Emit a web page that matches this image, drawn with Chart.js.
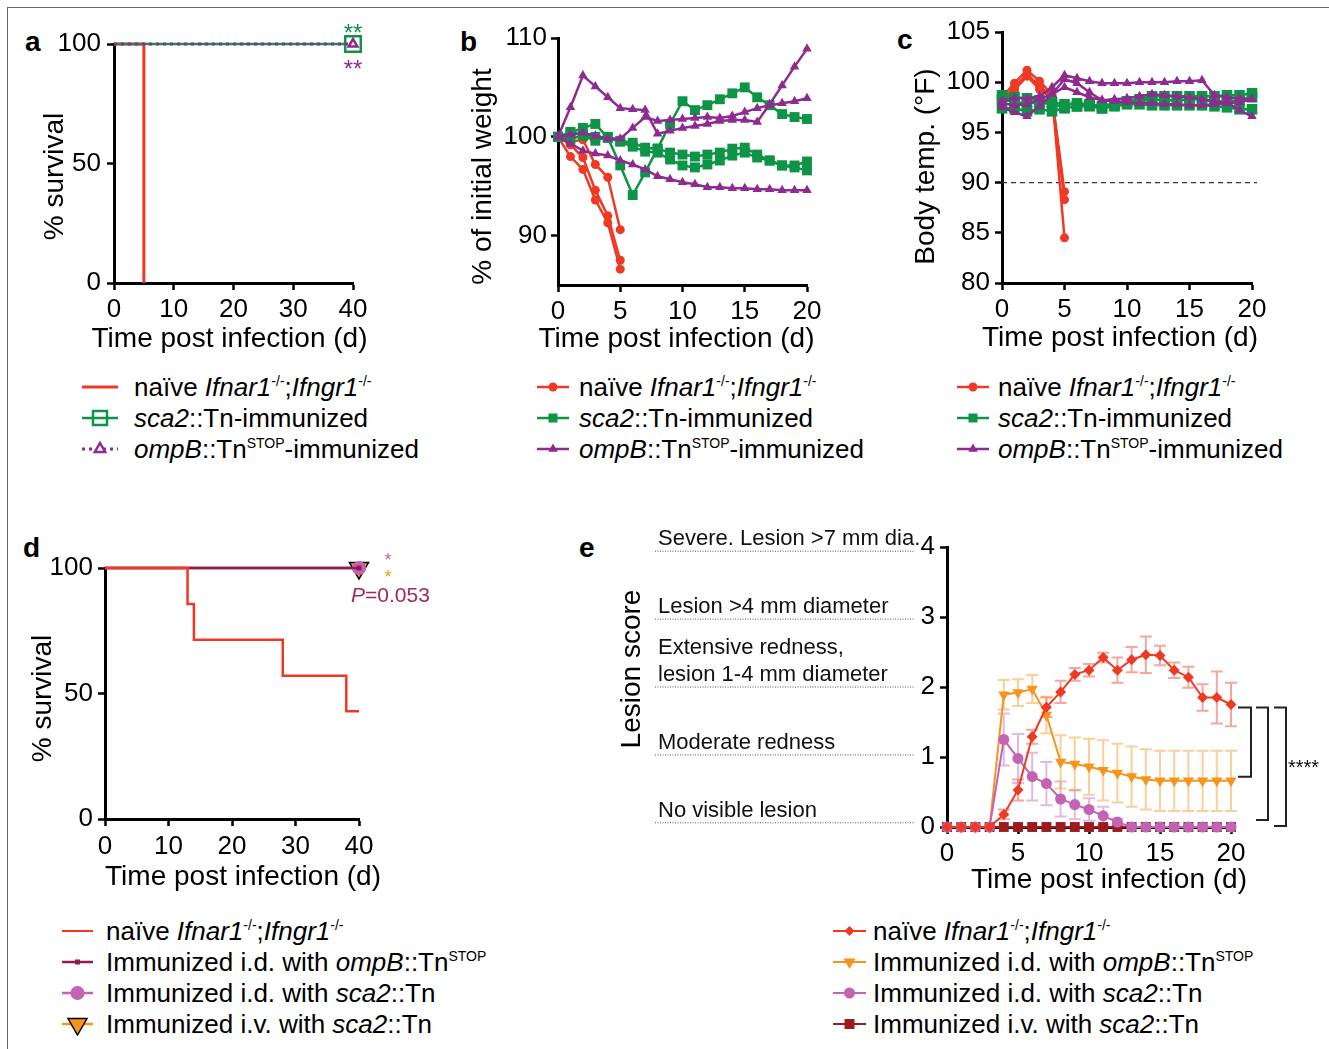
<!DOCTYPE html>
<html>
<head>
<meta charset="utf-8">
<script src="https://cdn.jsdelivr.net/npm/chart.js@4.4.0/dist/chart.umd.min.js"></script>
<style>
  html, body { margin: 0; padding: 0; background: #fff; }
  body { width: 1329px; height: 1049px; position: relative; overflow: hidden;
         font-family: "Liberation Sans", Arial, sans-serif; color: #000; }
  .frame { position: absolute; left: 7px; top: 7px; right: -2px; bottom: -2px;
           border-top: 1px solid #666; border-left: 1px solid #666; }
  canvas { position: absolute; }
  .letter { position: absolute; font-weight: bold; font-size: 28px; line-height: 28px; }
  .legend { position: absolute; font-size: 26px; line-height: 1; }
  .legend .row { display: flex; align-items: center; height: 31px; white-space: nowrap; }
  .legend svg { flex: none; }
  .legend sup { font-size: 14px; position: relative; top: -10px; vertical-align: baseline; line-height: 0; }
</style>
</head>
<body>
<div class="frame"></div>

<div class="letter" style="left:25px;top:28px">a</div>
<div class="letter" style="left:460px;top:28px">b</div>
<div class="letter" style="left:897px;top:26px">c</div>
<div class="letter" style="left:23px;top:534px">d</div>
<div class="letter" style="left:579px;top:534px">e</div>

<canvas id="chartA" width="380" height="350" style="left:20px;top:10px"></canvas>
<canvas id="chartB" width="400" height="350" style="left:450px;top:10px"></canvas>
<canvas id="chartC" width="420" height="350" style="left:880px;top:10px"></canvas>
<canvas id="chartD" width="440" height="370" style="left:10px;top:530px"></canvas>
<canvas id="chartE" width="754" height="380" style="left:575px;top:520px"></canvas>

<div class="legend" id="legendA" style="left:82px;top:371px"></div>
<div class="legend" id="legendB" style="left:537px;top:371px"></div>
<div class="legend" id="legendC" style="left:957px;top:371px"></div>
<div class="legend" id="legendD" style="left:62px;top:915px"></div>
<div class="legend" id="legendE" style="left:833px;top:915px"></div>

<script>
// ---- data ----
const days = [0, 1, 2, 3, 4, 5, 6, 7, 8, 9, 10, 11, 12, 13, 14, 15, 16, 17, 18, 19, 20];
const naiveDays = [0, 1, 2, 3, 4, 5];
const dayTicks = [0, 5, 10, 15, 20];
const survivalTicksX = [0, 10, 20, 30, 40];
const survivalTicksY = [0, 50, 100];

// a: survival after challenge
const aNaiveDays = [0, 5];
const aNaiveSurvival = [100, 0];
const aSca2Days = [0, 40];
const aSca2Survival = [100, 100];
const aOmpBDays = [0, 40];
const aOmpBSurvival = [100, 100];

// b: % of initial weight
const weightTicks = [90, 100, 110];
const weightNaive1 = [100, 98.0, 96.7, 93.6, 91.3, 86.6];
const weightNaive2 = [100, 99.2, 97.9, 94.6, 92.0, 87.5];
const weightNaive3 = [100, 99.5, 99.7, 97.2, 95.9, 90.6];
const weightSca2A = [100, 100.4, 100.9, 101.3, 99.9, 97.1, 94.1, 96.4, 98.8, 101.3, 103.6, 102.7, 103.2, 103.8, 104.4, 105.0, 104.0, 103.2, 102.3, 102.0, 101.8];
const weightSca2B = [100, 100.5, 100.1, 99.6, 100.0, 99.6, 99.4, 98.9, 98.8, 98.4, 98.2, 98.0, 98.2, 98.4, 98.8, 98.9, 98.2, 97.6, 97.1, 97.1, 97.5];
const weightSca2C = [100, 99.7, 100.2, 100.0, 99.9, 99.5, 99.0, 98.5, 98.4, 97.7, 97.1, 96.9, 97.2, 97.6, 98.1, 98.4, 97.9, 97.6, 97.1, 96.9, 96.6];
const weightOmpB1 = [100, 103.0, 106.2, 105.1, 104.0, 102.9, 102.8, 102.7, 100.3, 100.6, 100.9, 101.1, 101.3, 101.6, 101.7, 101.7, 101.5, 103.3, 105.2, 107.1, 108.9];
const weightOmpB2 = [100, 100.2, 100.4, 100.1, 99.8, 99.8, 100.9, 102.0, 101.6, 101.7, 101.8, 101.9, 102.0, 101.9, 102.1, 102.5, 102.9, 103.2, 103.4, 103.6, 103.9];
const weightOmpB3 = [100, 99.3, 98.6, 98.3, 98.1, 97.6, 97.2, 96.7, 96.0, 95.7, 95.4, 95.2, 94.9, 94.9, 94.8, 94.8, 94.7, 94.7, 94.6, 94.6, 94.6];

// c: body temperature (F)
const tempTicks = [80, 85, 90, 95, 100, 105];
const tempCutoff = 90;
const tempNaive1 = [98.5, 99.9, 101.2, 100.1, 98.8, 84.5];
const tempNaive2 = [98.2, 99.5, 100.8, 99.6, 98.6, 89.1];
const tempNaive3 = [98.0, 99.2, 100.6, 99.3, 98.4, 88.3];
const tempSca2A = [98.7, 98.5, 98.4, 98.2, 98.0, 97.8, 97.9, 97.8, 97.6, 97.9, 98.1, 98.3, 98.6, 98.6, 98.6, 98.6, 98.6, 98.6, 98.7, 98.7, 98.9];
const tempSca2B = [98.3, 98.0, 97.9, 98.0, 97.8, 97.5, 97.6, 97.7, 97.4, 97.7, 98.0, 98.1, 98.3, 98.2, 98.2, 98.3, 98.3, 98.0, 98.1, 98.2, 98.5];
const tempSca2C = [97.4, 97.4, 97.1, 97.3, 97.1, 97.4, 97.6, 97.6, 97.4, 97.6, 97.8, 97.8, 97.7, 97.7, 97.7, 97.7, 97.7, 97.6, 97.5, 97.3, 97.3];
const tempOmpB1 = [98.2, 98.4, 98.4, 98.6, 99.5, 100.7, 100.4, 100.1, 99.9, 99.9, 99.9, 100.0, 100.0, 100.0, 100.1, 100.1, 100.2, 98.7, 98.5, 98.4, 98.3];
const tempOmpB2 = [97.5, 97.0, 96.6, 97.6, 98.8, 99.5, 99.0, 98.5, 98.2, 98.3, 98.4, 98.6, 98.8, 98.7, 98.6, 98.5, 98.3, 98.1, 98.0, 97.2, 96.6];
const tempOmpB3 = [97.9, 97.7, 97.8, 98.3, 98.8, 100.3, 99.9, 99.0, 98.2, 98.1, 98.0, 97.9, 97.9, 97.8, 97.8, 97.7, 97.7, 97.8, 97.9, 98.0, 98.3];

// d: survival after i.d. challenge
const dNaiveDays = [0, 13, 14, 28, 38, 40];
const dNaiveSurvival = [100, 85.7, 71.4, 57.1, 42.9, 42.9];
const dImmDays = [0, 40];
const dIdOmpBSurvival = [100, 100];
const dIdSca2Survival = [100, 100];
const dIvSca2Survival = [100, 100];

// e: lesion score (mean, SEM)
const lesionTicks = [0, 1, 2, 3, 4];
const lesionNaive    = [0, 0, 0, 0, 0.18, 0.53, 1.29, 1.71, 1.93, 2.18, 2.24, 2.42, 2.24, 2.39, 2.46, 2.45, 2.24, 2.14, 1.85, 1.85, 1.75];
const lesionNaiveSem = [0, 0, 0, 0, 0.07, 0.15, 0.10, 0.14, 0.16, 0.09, 0.09, 0.07, 0.18, 0.18, 0.26, 0.14, 0.11, 0.15, 0.19, 0.37, 0.31];
const lesionIdOmpB    = [0, 0, 0, 0, 1.89, 1.92, 1.97, 1.60, 0.93, 0.90, 0.86, 0.81, 0.77, 0.72, 0.68, 0.66, 0.66, 0.66, 0.66, 0.66, 0.66];
const lesionIdOmpBSem = [0, 0, 0, 0, 0.21, 0.19, 0.20, 0.26, 0.38, 0.38, 0.40, 0.43, 0.42, 0.43, 0.43, 0.43, 0.43, 0.43, 0.43, 0.43, 0.43];
const lesionIdSca2    = [0, 0, 0, 0, 1.25, 0.98, 0.72, 0.62, 0.40, 0.32, 0.25, 0.16, 0.07, 0, 0, 0, 0, 0, 0, 0, 0];
const lesionIdSca2Sem = [0, 0, 0, 0, 0.37, 0.35, 0.34, 0.31, 0.25, 0.21, 0.16, 0.13, 0.05, 0, 0, 0, 0, 0, 0, 0, 0];
const lesionIvSca2    = [0, 0, 0, 0, 0, 0, 0, 0, 0, 0, 0, 0, 0, 0, 0, 0, 0, 0, 0, 0, 0];
const lesionLevelText = [
  ['No visible lesion'],
  ['Moderate redness'],
  ['Extensive redness,', 'lesion 1-4 mm diameter'],
  ['Lesion >4 mm diameter'],
  ['Severe. Lesion >7 mm dia.']
];

// legend labels
const naiveLabel = 'naïve <i>Ifnar1</i><sup>-/-</sup>;<i>Ifngr1</i><sup>-/-</sup>';
const immunizedLabels = ['<i>sca2</i>::Tn-immunized', '<i>ompB</i>::Tn<sup>STOP</sup>-immunized'];
const routeLabels = [
  'Immunized i.d. with <i>ompB</i>::Tn<sup>STOP</sup>',
  'Immunized i.d. with <i>sca2</i>::Tn',
  'Immunized i.v. with <i>sca2</i>::Tn'
];

// ---- colours ----
const RED = '#EE3A24';
const GREEN = '#0E9447';
const PURPLE = '#8E2B91';
const PINK = '#C263B3';
const ORANGE = '#F7941D';
const MAROON_D = '#8C1D50';
const MAROON_E = '#9C1B1F';
const FONT = '"Liberation Sans", Arial, sans-serif';

Chart.defaults.font.family = FONT;
Chart.defaults.color = '#000';

// axis titles are drawn here so that long titles are not squeezed to the axis width
const axisTitles = {
  id: 'axisTitles',
  afterDraw(chart, args, o) {
    if (!o.x) return;
    const { ctx, chartArea: a } = chart;
    ctx.save();
    ctx.fillStyle = '#000';
    ctx.font = '28px ' + FONT;
    ctx.textAlign = 'center';
    ctx.textBaseline = 'middle';
    ctx.fillText(o.x, (a.left + a.right) / 2 + o.xShift, a.bottom + o.xBelow);
    ctx.translate(a.left - o.yLeft, (a.top + a.bottom) / 2 + o.yShift);
    ctx.rotate(-Math.PI / 2);
    ctx.fillText(o.y, 0, 0);
    ctx.restore();
  }
};
Chart.register(axisTitles);

const pts = (xs, ys) => xs.map((x, i) => ({ x, y: ys[i] }));

function axis(o) {
  return {
    type: 'linear', min: o.min, max: o.max,
    afterBuildTicks: s => { s.ticks = o.ticks.map(v => ({ value: v })); },
    afterFit: s => { if (s.isHorizontal()) s.height = o.size; else s.width = o.size; },
    border: { color: '#000', width: 3 },
    grid: { drawOnChartArea: false, drawTicks: true, tickLength: 7, tickWidth: 2.5, tickColor: '#000' },
    ticks: { font: { size: 26 }, padding: o.tickPad, maxRotation: 0, minRotation: 0, autoSkip: false, color: '#000' },
    title: { display: false }
  };
}

function line(xs, ys, color, shape, r, extra) {
  return Object.assign({
    data: pts(xs, ys),
    borderColor: color, backgroundColor: color, borderWidth: 2.5,
    pointStyle: shape, pointRadius: r, pointBorderWidth: 0,
    pointBackgroundColor: color, pointBorderColor: color,
    tension: 0, clip: false
  }, extra || {});
}

function options(pad, xAxis, yAxis, titles) {
  return {
    responsive: false, animation: false, devicePixelRatio: 1,
    layout: { padding: pad, autoPadding: false },
    plugins: { legend: { display: false }, tooltip: { enabled: false }, axisTitles: titles },
    scales: { x: xAxis, y: yAxis }
  };
}

// ---- plugins for annotations ----
const survivalStarsA = {
  id: 'survivalStarsA',
  afterDatasetsDraw(chart) {
    const { ctx, scales: { x, y } } = chart;
    const px = x.getPixelForValue(40), py = y.getPixelForValue(100);
    ctx.save();
    ctx.font = '24px ' + FONT;
    ctx.textAlign = 'center';
    ctx.textBaseline = 'alphabetic';
    ctx.fillStyle = GREEN;
    ctx.fillText('**', px, py - 3);
    ctx.fillStyle = PURPLE;
    ctx.fillText('**', px, py + 33);
    ctx.restore();
  }
};

const cutoffLine = {
  id: 'cutoffLine',
  beforeDatasetsDraw(chart) {
    const { ctx, chartArea, scales: { x, y } } = chart;
    const py = y.getPixelForValue(tempCutoff);
    ctx.save();
    ctx.strokeStyle = '#333';
    ctx.lineWidth = 1.2;
    ctx.setLineDash([5, 4]);
    ctx.beginPath();
    ctx.moveTo(chartArea.left, py);
    ctx.lineTo(x.getPixelForValue(20) + 5, py);
    ctx.stroke();
    ctx.restore();
  }
};

const survivalStarsD = {
  id: 'survivalStarsD',
  afterDatasetsDraw(chart) {
    const { ctx, scales: { x, y } } = chart;
    const px = x.getPixelForValue(40), py = y.getPixelForValue(100);
    ctx.save();
    ctx.font = '18px ' + FONT;
    ctx.textAlign = 'center';
    ctx.fillStyle = PINK;
    ctx.fillText('*', px + 29, py - 2);
    ctx.fillStyle = ORANGE;
    ctx.fillText('*', px + 29, py + 15);
    ctx.textAlign = 'left';
    ctx.fillStyle = '#A0295E';
    ctx.font = 'italic 21px ' + FONT;
    ctx.fillText('P', px - 8, py + 34);
    const w = ctx.measureText('P').width;
    ctx.font = '21px ' + FONT;
    ctx.fillText('=0.053', px - 8 + w, py + 34);
    ctx.restore();
  }
};

const errorBars = {
  id: 'errorBars',
  beforeDatasetsDraw(chart) {
    const { ctx, scales: { y } } = chart;
    chart.data.datasets.forEach((ds, i) => {
      if (!ds.sem) return;
      const meta = chart.getDatasetMeta(i);
      ctx.save();
      ctx.strokeStyle = ds.semColor;
      ctx.lineWidth = 2;
      meta.data.forEach((pt, j) => {
        const e = ds.sem[j];
        if (!e) return;
        const v = ds.data[j].y;
        const t = y.getPixelForValue(v + e), b = y.getPixelForValue(v - e);
        ctx.beginPath();
        ctx.moveTo(pt.x, t); ctx.lineTo(pt.x, b);
        ctx.moveTo(pt.x - 6, t); ctx.lineTo(pt.x + 6, t);
        ctx.moveTo(pt.x - 6, b); ctx.lineTo(pt.x + 6, b);
        ctx.stroke();
      });
      ctx.restore();
    });
  }
};

const lesionAnnotations = {
  id: 'lesionAnnotations',
  afterDraw(chart) {
    const { ctx, chartArea, scales: { x, y } } = chart;
    ctx.save();
    // scoring key on the left (its rules sit slightly tighter than the axis ticks)
    const mid = y.getPixelForValue(2);
    lesionLevelText.forEach((lines, level) => {
      const ly = mid + (y.getPixelForValue(level) - mid) * 0.97;
      ctx.strokeStyle = '#555';
      ctx.lineWidth = 1;
      ctx.setLineDash([1, 1.5]);
      ctx.beginPath();
      ctx.moveTo(chartArea.left - 292, ly);
      ctx.lineTo(chartArea.left - 32, ly);
      ctx.stroke();
      ctx.setLineDash([]);
      ctx.fillStyle = '#111';
      ctx.font = '22px ' + FONT;
      ctx.textAlign = 'left';
      lines.forEach((txt, k) => {
        ctx.fillText(txt, chartArea.left - 289, ly - 6 - (lines.length - 1 - k) * 27);
      });
    });
    // significance brackets at day 20
    const xr = x.getPixelForValue(20);
    const last = arr => y.getPixelForValue(arr[arr.length - 1]);
    const top = last(lesionNaive) + 3;
    const brackets = [
      [7, 20, last(lesionIdOmpB) - 4],
      [25, 37, last(lesionIvSca2) - 7],
      [43, 55, last(lesionIdSca2) - 1]
    ];
    ctx.strokeStyle = '#222';
    ctx.lineWidth = 2;
    brackets.forEach(([a, b, bottom]) => {
      ctx.beginPath();
      ctx.moveTo(xr + a, top); ctx.lineTo(xr + b, top);
      ctx.lineTo(xr + b, bottom); ctx.lineTo(xr + a, bottom);
      ctx.stroke();
    });
    ctx.fillStyle = '#111';
    ctx.font = '20px ' + FONT;
    ctx.textAlign = 'left';
    ctx.fillText('****', xr + 57, (top + brackets[2][2]) / 2 + 7);
    ctx.restore();
  }
};

// ---- panel a ----
new Chart(document.getElementById('chartA'), {
  type: 'line',
  data: { datasets: [
    line(aNaiveDays, aNaiveSurvival, RED, 'circle', 0, { stepped: true, order: 3, borderWidth: 3 }),
    line(aSca2Days, aSca2Survival, GREEN, 'rect', [0, 11], {
      order: 2, pointBorderWidth: 2.5, pointBackgroundColor: '#fff', pointBorderColor: GREEN }),
    line(aOmpBDays, aOmpBSurvival, PURPLE, 'triangle', [0, 5], {
      order: 1, borderDash: [3, 4], borderWidth: 3, pointBorderWidth: 2.5,
      pointBackgroundColor: '#fff', pointBorderColor: PURPLE })
  ] },
  options: options({ left: 0, top: 34, right: 47, bottom: 0 },
    axis({ min: 0, max: 40, ticks: survivalTicksX, size: 77, tickPad: 4 }),
    axis({ min: 0, max: 100, ticks: survivalTicksY, size: 94, tickPad: 6 }),
    { x: 'Time post infection (d)', xShift: -4, xBelow: 56, y: '% survival', yLeft: 59, yShift: 13 }),
  plugins: [survivalStarsA]
});

// ---- panel b ----
new Chart(document.getElementById('chartB'), {
  type: 'line',
  data: { datasets: [
    line(days, weightOmpB1, PURPLE, 'triangle', 5.5),
    line(days, weightOmpB2, PURPLE, 'triangle', 5.5),
    line(days, weightOmpB3, PURPLE, 'triangle', 5.5),
    line(days, weightSca2A, GREEN, 'rect', 7),
    line(days, weightSca2B, GREEN, 'rect', 7),
    line(days, weightSca2C, GREEN, 'rect', 7),
    line(naiveDays, weightNaive1, RED, 'circle', 4.5),
    line(naiveDays, weightNaive2, RED, 'circle', 4.5),
    line(naiveDays, weightNaive3, RED, 'circle', 4.5)
  ] },
  options: options({ left: 0, top: 28, right: 43, bottom: 0 },
    axis({ min: 0, max: 20, ticks: dayTicks, size: 75, tickPad: 4 }),
    axis({ min: 85, max: 110, ticks: weightTicks, size: 108, tickPad: 4 }),
    { x: 'Time post infection (d)', xShift: -6, xBelow: 54, y: '% of initial weight', yLeft: 75, yShift: 15 })
});

// ---- panel c ----
new Chart(document.getElementById('chartC'), {
  type: 'line',
  data: { datasets: [
    line(days, tempOmpB1, PURPLE, 'triangle', 5.5),
    line(days, tempOmpB2, PURPLE, 'triangle', 5.5),
    line(days, tempOmpB3, PURPLE, 'triangle', 5.5),
    line(days, tempSca2A, GREEN, 'rect', 7.5),
    line(days, tempSca2B, GREEN, 'rect', 7.5),
    line(days, tempSca2C, GREEN, 'rect', 7.5),
    line(naiveDays, tempNaive1, RED, 'circle', 4.5),
    line(naiveDays, tempNaive2, RED, 'circle', 4.5),
    line(naiveDays, tempNaive3, RED, 'circle', 4.5)
  ] },
  options: options({ left: 0, top: 22, right: 48, bottom: 0 },
    axis({ min: 0, max: 20, ticks: dayTicks, size: 77, tickPad: 4 }),
    axis({ min: 80, max: 105, ticks: tempTicks, size: 122, tickPad: 5 }),
    { x: 'Time post infection (d)', xShift: -7, xBelow: 55, y: 'Body temp. (\u00B0F)', yLeft: 76, yShift: 9 }),
  plugins: [cutoffLine]
});

// ---- panel d ----
new Chart(document.getElementById('chartD'), {
  type: 'line',
  data: { datasets: [
    line(dNaiveDays, dNaiveSurvival, RED, 'circle', 0, { stepped: true, order: 0 }),
    line(dImmDays, dIdOmpBSurvival, MAROON_D, 'rect', [0, 3.5], { order: 1 }),
    line(dImmDays, dIdSca2Survival, PINK, 'circle', [0, 7], { order: 2 }),
    line(dImmDays, dIvSca2Survival, ORANGE, 'triangle', [0, 11], {
      order: 3, pointRotation: 180, pointBorderWidth: 1.5, pointBorderColor: '#000' })
  ] },
  options: options({ left: 0, top: 38, right: 91, bottom: 0 },
    axis({ min: 0, max: 40, ticks: survivalTicksX, size: 81, tickPad: 5 }),
    axis({ min: 0, max: 100, ticks: survivalTicksY, size: 95, tickPad: 5 }),
    { x: 'Time post infection (d)', xShift: 11, xBelow: 58, y: '% survival', yLeft: 62, yShift: 5 }),
  plugins: [survivalStarsD]
});

// ---- panel e ----
new Chart(document.getElementById('chartE'), {
  type: 'line',
  data: { datasets: [
    line(days, lesionNaive, RED, 'rectRot', 5.5, {
      order: 0, borderWidth: 2, sem: lesionNaiveSem, semColor: 'rgba(238,58,36,0.45)' }),
    line(days, lesionIdSca2, PINK, 'circle', 5.5, {
      order: 1, borderWidth: 2, sem: lesionIdSca2Sem, semColor: 'rgba(194,99,179,0.45)' }),
    line(days, lesionIvSca2, MAROON_E, 'rect', 7, { order: 2, borderWidth: 2 }),
    line(days, lesionIdOmpB, ORANGE, 'triangle', 6.5, {
      order: 3, borderWidth: 2, pointRotation: 180, sem: lesionIdOmpBSem, semColor: 'rgba(247,148,29,0.45)' })
  ] },
  options: options({ left: 0, top: 27, right: 98, bottom: 0 },
    axis({ min: 0, max: 20, ticks: dayTicks, size: 73, tickPad: 4 }),
    axis({ min: 0, max: 4, ticks: lesionTicks, size: 372, tickPad: 5 }),
    { x: 'Time post infection (d)', xShift: 20, xBelow: 53, y: 'Lesion score', yLeft: 315, yShift: -18 }),
  plugins: [errorBars, lesionAnnotations]
});

// ---- legends (html, for italic / superscript text) ----
function symbol(w, s) {
  const h = 24, cy = 12, cx = w / 2, r = s.r || 0;
  const fill = s.fill || s.color, stroke = s.stroke || s.color, sw = s.sw || 0;
  let out = `<line x1="0" y1="${cy}" x2="${w}" y2="${cy}" stroke="${s.color}" stroke-width="${s.lw || 2.5}"` +
            (s.dash ? ` stroke-dasharray="${s.dash}"` : '') + '/>';
  const poly = p => `<polygon points="${p.map(q => q.join(',')).join(' ')}" fill="${fill}" stroke="${stroke}" stroke-width="${sw}"/>`;
  if (s.marker === 'circle') out += `<circle cx="${cx}" cy="${cy}" r="${r}" fill="${fill}" stroke="${stroke}" stroke-width="${sw}"/>`;
  if (s.marker === 'square') out += `<rect x="${cx - r}" y="${cy - r}" width="${2 * r}" height="${2 * r}" fill="${fill}" stroke="${stroke}" stroke-width="${sw}"/>`;
  if (s.marker === 'triangle') out += poly([[cx, cy - r], [cx + 0.866 * r, cy + r / 2], [cx - 0.866 * r, cy + r / 2]]);
  if (s.marker === 'invtriangle') out += poly([[cx, cy + r], [cx + 0.866 * r, cy - r / 2], [cx - 0.866 * r, cy - r / 2]]);
  if (s.marker === 'diamond') out += poly([[cx, cy - r], [cx + r, cy], [cx, cy + r], [cx - r, cy]]);
  return `<svg width="${w}" height="${h}" viewBox="0 0 ${w} ${h}">${out}</svg>`;
}

function legend(id, w, gap, items) {
  document.getElementById(id).innerHTML = items.map(([sym, label]) =>
    `<div class="row">${symbol(w, sym)}<span style="margin-left:${gap}px">${label}</span></div>`).join('');
}

legend('legendA', 36, 16, [
  [{ color: RED, lw: 3 }, naiveLabel],
  [{ color: GREEN, marker: 'square', r: 7, fill: 'none', sw: 2.5 }, immunizedLabels[0]],
  [{ color: PURPLE, dash: '3 4', lw: 3, marker: 'triangle', r: 6, fill: '#fff', sw: 2.5 }, immunizedLabels[1]]
]);
['legendB', 'legendC'].forEach((id, k) => legend(id, 32, k ? 9 : 10, [
  [{ color: RED, marker: 'circle', r: 4.5 }, naiveLabel],
  [{ color: GREEN, marker: 'square', r: 4.5 }, immunizedLabels[0]],
  [{ color: PURPLE, marker: 'triangle', r: 5.5 }, immunizedLabels[1]]
]));
legend('legendD', 31, 13, [
  [{ color: RED, lw: 2 }, naiveLabel],
  [{ color: MAROON_D, marker: 'square', r: 2.5 }, routeLabels[0]],
  [{ color: PINK, marker: 'circle', r: 7 }, routeLabels[1]],
  [{ color: ORANGE, marker: 'invtriangle', r: 11, stroke: '#000', sw: 1.5 }, routeLabels[2]]
]);
legend('legendE', 33, 7, [
  [{ color: RED, lw: 2, marker: 'diamond', r: 5 }, naiveLabel],
  [{ color: ORANGE, lw: 2, marker: 'invtriangle', r: 7 }, routeLabels[0]],
  [{ color: PINK, lw: 2, marker: 'circle', r: 5.5 }, routeLabels[1]],
  [{ color: MAROON_E, lw: 2, marker: 'square', r: 5 }, routeLabels[2]]
]);
</script>
</body>
</html>
